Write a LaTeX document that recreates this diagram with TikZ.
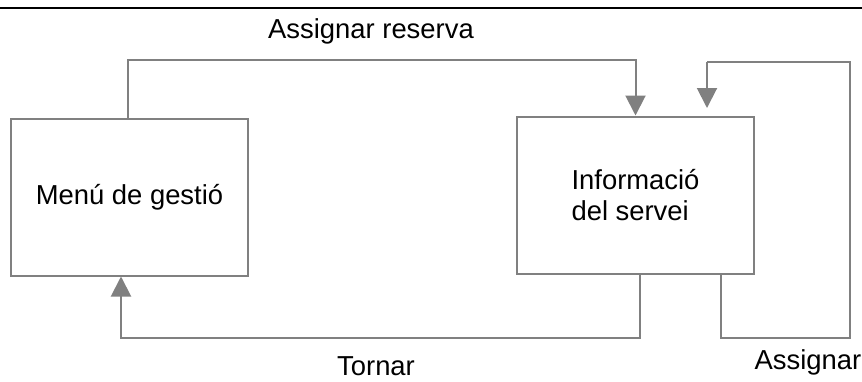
\documentclass[tikz,border=0pt]{standalone}
\usepackage{fontspec}
\setmainfont{Liberation Sans}
\definecolor{line}{HTML}{808080}
\usetikzlibrary{
  arrows.meta,
  positioning
}
\tikzset{
  every node/.style={font=\fontsize{13.7}{15.5}\selectfont, text=black},
  screen/.style={
    draw=line,
    line width=1pt,
    minimum width=118.5pt,
    minimum height=78.5pt,
    inner sep=0pt
  },
  flow/.style={-{Triangle[width=10pt,length=10pt]}, line width=1pt, draw=line},
  wire/.style={line width=1pt, draw=line},
  annot/.style={anchor=base}
}

\begin{document}
\begin{tikzpicture}[x=0.5pt, y=-0.5pt]
  \useasboundingbox (0,0) rectangle (862,381);

  % Header rule
  \draw[line width=1pt, black] (0,7.5) -- (862,7.5);

  % Screens
  \node[screen] (gestio) at (129.5,197) {Menú de gestió};
  \node[screen, align=left, text depth=0pt] (servei) at (635.5,195) {Informació\\del servei};

  % Free ends
  \coordinate (topleft) at (128,60);
  \coordinate (loopbot) at (850,338);
  \coordinate (looptop) at (707,62);
  \coordinate (loopend) at (707,108);

  % Connectors
  \draw[flow] (gestio.north -| topleft) |- (topleft -| servei.north) -- (servei.north);
  \draw[flow] ([xshift=2.25pt]servei.south) |- ++(-519,63.5) -- ([xshift=-4.25pt]gestio.south);
  \draw[wire] ([xshift=42.75pt]servei.south) |- (loopbot) |- (looptop);
  \draw[flow] (looptop) -- (loopend);

  % Labels
  \node[annot] (lblreserva) at (371,38) {Assignar reserva};
  \node[annot] (lbltornar) at (376,375) {Tornar};
  \node[annot] (lblassignar) at (808,369) {Assignar};
\end{tikzpicture}
\end{document}
